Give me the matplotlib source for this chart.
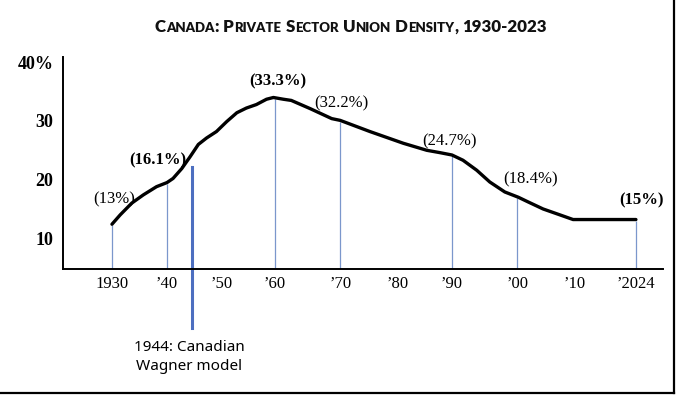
import numpy as np
import matplotlib
matplotlib.use("Agg")
import matplotlib.pyplot as plt
from matplotlib.transforms import IdentityTransform, blended_transform_factory
from matplotlib.lines import Line2D

# private sector union density (%)
years = [1930, 1931.5, 1933.6, 1935.7, 1938.1, 1940, 1941.1, 1942.7, 1944.2,
         1945.7, 1947.2, 1949, 1950.9, 1952.8, 1954.6, 1956.5, 1958.4, 1959.7,
         1961.3, 1962.5, 1965.4, 1968.7, 1970, 1975.2, 1981.1, 1985.4, 1987.8,
         1990, 1991.7, 1993.8, 1995.8, 1998.1, 2000.2, 2001.9, 2004.5, 2007.4,
         2009.7, 2015.1, 2024]
density = [12.4, 14.0, 16.0, 17.4, 18.8, 19.5, 20.2, 21.9, 23.9,
           26.0, 27.1, 28.2, 29.9, 31.4, 32.2, 32.8, 33.7, 34.0,
           33.7, 33.5, 32.1, 30.4, 30.1, 28.2, 26.2, 25.0, 24.6,
           24.2, 23.3, 21.6, 19.6, 17.9, 17.0, 16.2, 15.0, 14.0,
           13.2, 13.2, 13.2]

tick_years = [1930, 1940, 1950, 1960, 1970, 1980, 1990, 2000, 2010, 2024]
tick_labels = ["1930", "\u201940", "\u201950", "\u201960", "\u201970",
               "\u201980", "\u201990", "\u201900", "\u201910", "\u20192024"]

y_ticks = [10, 20, 30, 40]
y_labels = ["10", "20", "30", "40%"]

note_years = [1930, 1940, 1960, 1970, 1990, 2000, 2024]
note_texts = ["(13%)", "(16.1%)", "(33.3%)", "(32.2%)", "(24.7%)", "(18.4%)", "(15%)"]
note_bold = [False, True, True, False, False, False, True]

wagner_year = 1944
wagner_text = "1944: Canadian\nWagner model"

# the original axis is hand spaced, decades are not quite even
tick_pos = [0, 0.945, 1.89, 2.80, 3.92, 4.90, 5.84, 6.96, 7.95, 9.0]
note_offsets = [(2, 25), (-9, 22), (3, 16), (1, 17), (-2, 14), (13, 17), (6, 19)]

line_blue = "#7b97cc"
wagner_blue = "#4d6fc0"
serif = "Liberation Serif"


def _stretch(x, src, dst):
    x = np.asarray(x, dtype=float)
    mid = np.interp(x, src, dst)
    lo = dst[0] + (x - src[0]) * (dst[1] - dst[0]) / (src[1] - src[0])
    hi = dst[-1] + (x - src[-1]) * (dst[-1] - dst[-2]) / (src[-1] - src[-2])
    return np.where(x < src[0], lo, np.where(x > src[-1], hi, mid))


def to_pos(x):
    return _stretch(x, tick_years, tick_pos)


def from_pos(p):
    return _stretch(p, tick_pos, tick_years)


fig = plt.figure(figsize=(6.8, 4.05), dpi=100, facecolor="white")
ax = fig.add_axes([63 / 680, 1 - 269 / 405, 600 / 680, 212 / 405])
ax.set_xscale("function", functions=(to_pos, from_pos))
ax.set_xlim(1921.1, 2030.2)
y_bottom = 4.77
ax.set_ylim(y_bottom, 40.9)

# thin guide lines up to the curve
tops = np.interp(note_years, years, density)
ax.vlines(note_years, y_bottom, tops - 0.2, color=line_blue, lw=0.9, zorder=1)

ax.plot(years, density, color="black", lw=2.4, solid_capstyle="round",
        solid_joinstyle="round", zorder=3)

for yr, top, txt, bold, (dx, dy) in zip(note_years, tops, note_texts, note_bold, note_offsets):
    ax.annotate(txt, xy=(yr, top), xytext=(dx, dy), textcoords="offset pixels",
                ha="center", va="center", fontsize=12, family=serif,
                fontweight="bold" if bold else "normal", zorder=4)

# 1944 marker, runs below the axis
ax.plot([wagner_year + 0.5, wagner_year + 0.5], [22.1, -5.3], color=wagner_blue,
        lw=2.2, clip_on=False, zorder=2)
trans = blended_transform_factory(ax.transData, fig.transFigure)
ax.text(wagner_year, 1 - 357 / 405, wagner_text, transform=trans, ha="center",
        va="center", fontsize=11, family="Noto Sans", linespacing=1.45)

ax.set_xticks(tick_years)
ax.set_xticklabels(tick_labels, fontsize=12, family=serif)
ax.set_yticks(y_ticks)
ax.set_yticklabels(y_labels, fontsize=13, family=serif, fontweight="bold")
ax.minorticks_off()
ax.tick_params(axis="x", length=0, pad=5)
ax.tick_params(axis="y", length=0, pad=7)
for side in ["top", "right"]:
    ax.spines[side].set_visible(False)
for side in ["left", "bottom"]:
    ax.spines[side].set_linewidth(1.4)
    ax.spines[side].set_color("black")

# title in small caps, built piece by piece
words = [[("C", 1), ("ANADA", 0), (":", 1)], [("P", 1), ("RIVATE", 0)],
         [("S", 1), ("ECTOR", 0)], [("U", 1), ("NION", 0)],
         [("D", 1), ("ENSITY", 0), (",", 1)], [("1930-2023", 1)]]
big, small = 12.2, 9.5
renderer = fig.canvas.get_renderer()
pieces = []
for word in words:
    for s, is_big in word:
        t = fig.text(0, 0, s, fontsize=big if is_big else small, fontweight="heavy",
                     family="Lato", color="#111111", ha="left", va="baseline",
                     transform=IdentityTransform())
        pieces.append((t, t.get_window_extent(renderer).width))
    pieces.append((None, big * 100 / 72 * 0.26))
pieces = pieces[:-1]
total = sum(w for _, w in pieces)
x = 351 - total / 2
for t, w in pieces:
    if t is not None:
        t.set_position((x, 405 - 32))
    x += w

# frame edges visible on the right and bottom
fig.add_artist(Line2D([0, 674 / 680], [1 - 393 / 405] * 2, transform=fig.transFigure,
                      color="black", lw=1.6))
fig.add_artist(Line2D([674 / 680] * 2, [1 - 393 / 405, 1], transform=fig.transFigure,
                      color="black", lw=1.6))

fig.savefig("out.png", dpi=100)
